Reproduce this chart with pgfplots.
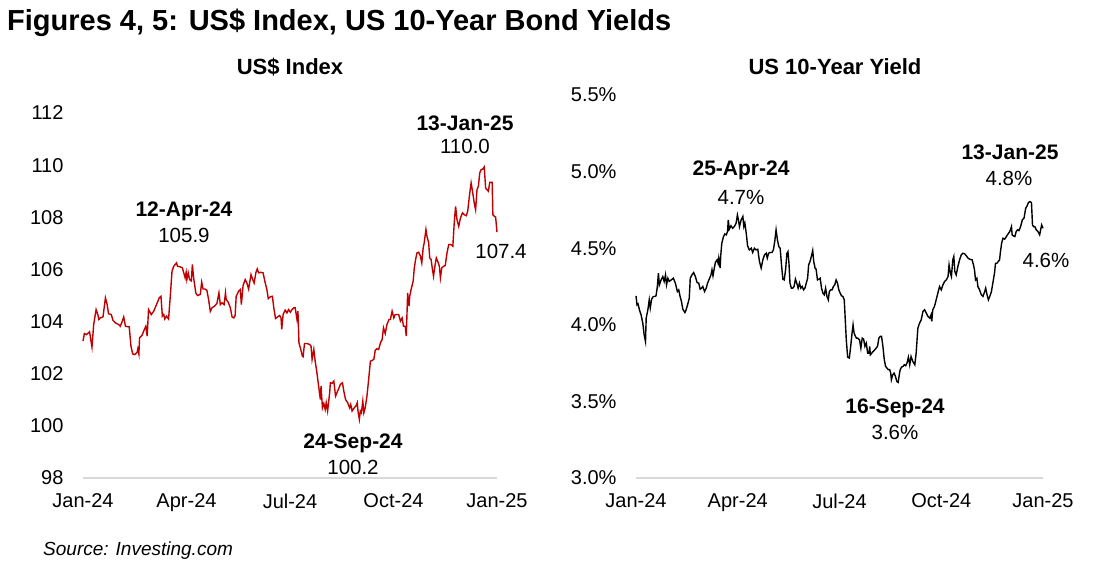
\documentclass[border=0pt]{standalone}
\usepackage{fontspec}
\setmainfont{Liberation Sans}
\usepackage{pgfplots}
\pgfplotsset{compat=1.18}
\definecolor{dxyred}{HTML}{C00000}
\definecolor{axgray}{HTML}{D9D9D9}
\begin{document}
\begin{tikzpicture}
\useasboundingbox (0pt,0pt) rectangle (1108pt,572pt);
\pgfplotsset{
  panel/.style={
    scale only axis, anchor=south west, clip=false,
    axis lines*=left,
    y axis line style={draw=none},
    x axis line style={draw=axgray, line width=1.5pt, -},
    tick style={draw=none},
    xmin=0, xmax=12,
    xtick={0,3,6,9,12},
    xticklabels={Jan-24,Apr-24,Jul-24,Oct-24,Jan-25},
    ticklabel style={font=\fontsize{20}{24}\selectfont},
    xticklabel style={yshift=-12pt},
    yticklabel style={xshift=-16pt},
  }
}
\begin{axis}[panel, at={(83pt,94pt)}, width=414pt, height=365pt,
  ymin=98, ymax=112, ytick={98,100,...,112},
  yticklabels={98,100,102,104,106,108,110,112}]
\addplot[dxyred, line width=1.4pt] table {
x y
0 103.25
0.04 103.54
0.10 103.50
0.16 103.57
0.19 103.61
0.24 103.18
0.26 103.02
0.31 103.89
0.38 104.46
0.43 104.27
0.46 104.08
0.50 104.14
0.58 104.18
0.65 104.91
0.70 104.65
0.74 104.30
0.82 104.27
0.87 104.04
0.94 103.95
1.03 103.89
1.08 103.82
1.13 103.98
1.18 104.18
1.23 103.82
1.29 103.80
1.34 103.80
1.39 103.06
1.44 102.76
1.50 102.73
1.57 102.83
1.59 102.96
1.62 102.76
1.64 103.38
1.71 103.47
1.78 103.70
1.82 103.82
1.86 103.44
1.90 104.46
1.98 104.27
2.05 104.40
2.13 104.65
2.21 104.91
2.26 104.97
2.30 104.21
2.34 104.27
2.37 104.10
2.42 104.21
2.48 104.10
2.53 104.97
2.58 105.93
2.63 106.12
2.71 106.25
2.74 106.12
2.82 106.10
2.88 106.06
2.92 105.87
2.96 105.68
2.99 105.89
3.01 105.61
3.05 105.87
3.09 105.61
3.14 105.56
3.17 106.19
3.21 105.64
3.27 105.10
3.32 105.00
3.40 105.04
3.44 105.51
3.48 105.25
3.54 105.25
3.59 105.20
3.64 104.85
3.69 104.39
3.74 104.53
3.81 104.59
3.88 104.69
3.94 105.10
3.98 104.65
4.03 104.72
4.09 104.65
4.13 105.10
4.15 104.85
4.21 104.74
4.27 104.53
4.32 104.18
4.37 104.14
4.41 104.23
4.44 104.97
4.51 105.16
4.56 105.23
4.59 104.65
4.64 105.38
4.70 105.61
4.75 105.48
4.80 105.25
4.87 105.80
4.92 105.61
4.96 105.48
5.01 105.87
5.05 106.02
5.09 105.87
5.16 105.89
5.22 105.87
5.27 105.55
5.33 105.23
5.37 104.88
5.43 104.95
5.49 104.97
5.53 104.53
5.58 104.12
5.64 104.18
5.70 104.23
5.74 104.14
5.76 103.70
5.80 104.27
5.86 104.44
5.91 104.33
5.96 104.46
6.01 104.36
6.06 104.46
6.11 104.53
6.15 104.53
6.20 104.10
6.23 104.40
6.26 103.18
6.30 102.99
6.36 102.67
6.38 102.65
6.42 103.16
6.49 103.16
6.57 103.12
6.61 103.06
6.64 102.55
6.69 102.93
6.73 102.48
6.78 102.04
6.83 101.52
6.88 101.01
6.90 101.52
6.94 100.69
6.98 100.86
7.02 100.63
7.05 100.89
7.09 100.57
7.15 101.27
7.17 101.65
7.22 101.63
7.27 101.72
7.32 101.14
7.36 101.27
7.41 101.42
7.46 101.59
7.52 101.65
7.56 101.33
7.61 101.01
7.67 100.89
7.73 100.69
7.76 100.82
7.80 100.57
7.86 100.69
7.91 100.76
7.95 100.89
7.97 100.57
8.01 100.25
8.04 100.57
8.07 100.50
8.11 100.95
8.14 100.50
8.18 100.69
8.23 101.14
8.28 101.78
8.33 102.48
8.38 102.51
8.43 102.55
8.47 102.90
8.52 102.96
8.57 102.93
8.62 103.18
8.67 103.31
8.71 103.76
8.76 103.54
8.81 103.89
8.87 104.08
8.91 104.08
8.96 104.40
9.01 104.14
9.05 104.27
9.10 104.27
9.15 104.27
9.20 104.02
9.25 104.14
9.29 103.82
9.34 103.82
9.37 103.44
9.41 105.10
9.45 104.59
9.47 104.97
9.51 105.23
9.57 105.55
9.60 106.02
9.64 106.38
9.68 106.63
9.73 106.66
9.78 106.51
9.82 106.25
9.86 106.82
9.89 107.02
9.94 107.53
9.97 107.27
10.02 107.02
10.05 106.44
10.09 106.38
10.13 105.99
10.16 105.74
10.20 106.12
10.24 106.44
10.29 106.28
10.33 106.12
10.36 105.68
10.40 106.06
10.45 106.12
10.50 106.15
10.55 106.63
10.60 106.95
10.67 106.95
10.72 106.89
10.76 107.78
10.80 108.42
10.84 107.91
10.89 107.65
10.94 107.97
11.00 108.17
11.05 108.10
11.11 108.06
11.15 108.23
11.21 108.93
11.25 109.32
11.29 109.00
11.34 108.55
11.38 108.29
11.42 109.06
11.46 109.19
11.50 109.70
11.54 109.83
11.59 109.85
11.63 109.93
11.67 109.12
11.71 109.06
11.75 109.00
11.79 109.34
11.83 109.34
11.86 109.34
11.88 108.10
11.92 108.04
11.96 108.01
12.00 107.43
};
\end{axis}
\begin{axis}[panel, at={(636pt,94pt)}, width=407pt, height=383pt,
  ymin=3, ymax=5.5, ytick={3,3.5,4,4.5,5,5.5},
  yticklabels={3.0\%,3.5\%,4.0\%,4.5\%,5.0\%,5.5\%}]
\addplot[black, line width=1.4pt] table {
x y
0 4.189
0.03 4.130
0.06 4.137
0.10 4.098
0.15 4.065
0.20 4.011
0.24 3.935
0.28 3.891
0.30 4.043
0.35 4.098
0.39 4.163
0.42 4.109
0.46 4.167
0.51 4.185
0.55 4.185
0.59 4.189
0.63 4.250
0.66 4.337
0.69 4.261
0.74 4.293
0.79 4.315
0.83 4.283
0.87 4.326
0.90 4.261
0.94 4.304
0.98 4.283
1.04 4.293
1.10 4.304
1.16 4.272
1.22 4.217
1.26 4.228
1.30 4.185
1.34 4.152
1.38 4.102
1.44 4.080
1.47 4.093
1.52 4.130
1.57 4.174
1.60 4.304
1.65 4.326
1.70 4.341
1.75 4.315
1.80 4.276
1.85 4.272
1.89 4.233
1.93 4.239
1.97 4.250
2.02 4.217
2.07 4.239
2.11 4.272
2.16 4.298
2.21 4.326
2.24 4.359
2.27 4.320
2.30 4.359
2.34 4.407
2.39 4.424
2.42 4.402
2.44 4.435
2.48 4.370
2.50 4.457
2.53 4.533
2.58 4.576
2.62 4.593
2.66 4.587
2.70 4.609
2.72 4.685
2.75 4.624
2.80 4.646
2.85 4.630
2.90 4.641
2.95 4.663
2.99 4.717
3.02 4.685
3.05 4.641
3.10 4.685
3.15 4.707
3.18 4.641
3.21 4.663
3.25 4.598
3.29 4.515
3.34 4.489
3.40 4.500
3.44 4.472
3.49 4.500
3.54 4.489
3.59 4.493
3.64 4.413
3.69 4.370
3.74 4.424
3.79 4.457
3.84 4.467
3.87 4.435
3.91 4.467
3.95 4.472
4.01 4.472
4.05 4.489
4.09 4.543
4.13 4.620
4.17 4.554
4.21 4.511
4.25 4.500
4.29 4.391
4.33 4.298
4.37 4.293
4.41 4.359
4.45 4.467
4.48 4.478
4.51 4.402
4.54 4.272
4.58 4.239
4.62 4.239
4.66 4.250
4.70 4.298
4.74 4.272
4.78 4.239
4.82 4.272
4.86 4.239
4.90 4.250
4.94 4.228
4.98 4.239
5.02 4.272
5.06 4.304
5.09 4.391
5.13 4.413
5.17 4.446
5.21 4.485
5.24 4.413
5.28 4.370
5.31 4.363
5.35 4.293
5.39 4.298
5.43 4.304
5.47 4.239
5.51 4.207
5.55 4.196
5.59 4.239
5.63 4.185
5.67 4.163
5.70 4.217
5.74 4.228
5.78 4.228
5.82 4.250
5.86 4.261
5.90 4.293
5.94 4.272
5.98 4.228
6.02 4.207
6.06 4.189
6.10 4.185
6.14 4.163
6.17 4.033
6.20 3.902
6.24 3.789
6.29 3.783
6.33 3.859
6.37 3.946
6.40 4.000
6.43 3.946
6.47 3.924
6.50 3.913
6.54 3.913
6.59 3.902
6.63 3.848
6.67 3.913
6.71 3.907
6.75 3.859
6.79 3.880
6.83 3.815
6.87 3.815
6.89 3.859
6.91 3.804
6.95 3.815
6.99 3.826
7.04 3.837
7.08 3.848
7.12 3.859
7.16 3.913
7.20 3.924
7.24 3.924
7.28 3.859
7.32 3.772
7.36 3.728
7.40 3.717
7.44 3.707
7.48 3.707
7.51 3.685
7.53 3.641
7.57 3.674
7.61 3.685
7.65 3.663
7.69 3.630
7.73 3.624
7.77 3.685
7.79 3.707
7.83 3.724
7.87 3.728
7.91 3.739
7.95 3.733
7.99 3.750
8.03 3.789
8.07 3.739
8.11 3.793
8.16 3.761
8.22 3.739
8.26 3.815
8.31 3.978
8.36 4.011
8.41 4.033
8.46 4.087
8.51 4.098
8.56 4.076
8.61 4.054
8.66 4.043
8.70 4.065
8.72 4.022
8.75 4.098
8.80 4.120
8.85 4.163
8.90 4.207
8.95 4.250
9.00 4.228
9.05 4.261
9.10 4.283
9.15 4.293
9.20 4.315
9.23 4.391
9.27 4.337
9.30 4.315
9.34 4.424
9.37 4.446
9.40 4.348
9.44 4.326
9.49 4.380
9.54 4.424
9.59 4.457
9.64 4.467
9.69 4.463
9.74 4.450
9.79 4.435
9.84 4.428
9.91 4.424
9.95 4.391
9.98 4.359
10.01 4.293
10.05 4.304
10.08 4.250
10.13 4.228
10.18 4.196
10.23 4.185
10.28 4.217
10.31 4.239
10.35 4.196
10.39 4.163
10.43 4.185
10.48 4.217
10.52 4.272
10.57 4.337
10.60 4.402
10.64 4.402
10.68 4.413
10.72 4.424
10.74 4.467
10.78 4.533
10.82 4.565
10.87 4.559
10.92 4.576
10.97 4.593
11.02 4.609
11.07 4.641
11.09 4.587
11.13 4.580
11.17 4.576
11.21 4.609
11.25 4.620
11.29 4.615
11.34 4.641
11.39 4.685
11.44 4.696
11.49 4.761
11.53 4.776
11.57 4.798
11.61 4.804
11.66 4.798
11.69 4.652
11.72 4.641
11.76 4.641
11.80 4.620
11.85 4.609
11.90 4.587
11.93 4.620
11.96 4.652
12.00 4.630
};
\end{axis}
% titles
\node[anchor=west, inner sep=0pt, font=\bfseries\fontsize{29}{34}\selectfont] at (7pt,549pt) {Figures 4, 5: US\$ Index, US 10-Year Bond Yields};
\node[font=\bfseries\fontsize{22}{26}\selectfont] at (290pt,505pt) {US\$ Index};
\node[font=\bfseries\fontsize{22}{26}\selectfont] at (835pt,505pt) {US 10-Year Yield};
\node[anchor=west, inner sep=0pt, font=\itshape\fontsize{19}{23}\selectfont] at (43pt,21pt) {Source: Investing.com};
% annotations
\begin{scope}[every node/.style={font=\fontsize{20.5}{24}\selectfont, inner sep=0pt}]
\node[font=\bfseries\fontsize{21}{24}\selectfont] at (184pt,361pt) {12-Apr-24};
\node at (184pt,337pt) {105.9};
\node[font=\bfseries\fontsize{21}{24}\selectfont] at (353pt,129pt) {24-Sep-24};
\node at (353pt,105pt) {100.2};
\node[font=\bfseries\fontsize{21}{24}\selectfont] at (465pt,449pt) {13-Jan-25};
\node at (465pt,426pt) {110.0};
\node at (501pt,321pt) {107.4};
\node[font=\bfseries\fontsize{21}{24}\selectfont] at (741pt,402pt) {25-Apr-24};
\node at (741pt,375pt) {4.7\%};
\node[font=\bfseries\fontsize{21}{24}\selectfont] at (895pt,164pt) {16-Sep-24};
\node at (895pt,140pt) {3.6\%};
\node[font=\bfseries\fontsize{21}{24}\selectfont] at (1010pt,420pt) {13-Jan-25};
\node at (1009pt,394pt) {4.8\%};
\node at (1046pt,312pt) {4.6\%};
\end{scope}
\end{tikzpicture}
\end{document}
